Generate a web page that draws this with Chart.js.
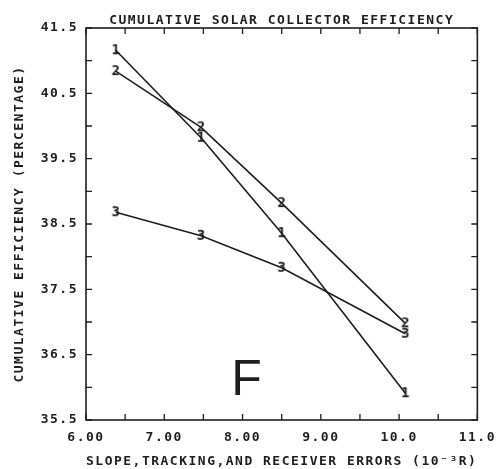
<!DOCTYPE html>
<html>
<head>
<meta charset="utf-8">
<script src="https://cdn.jsdelivr.net/npm/chart.js@4/dist/chart.umd.min.js"></script>
<style>
  html, body { margin: 0; padding: 0; background: #fff; }
  #wrap { width: 503px; height: 469px; }
</style>
</head>
<body>
<div id="wrap"><canvas id="effChart" width="503" height="469"></canvas></div>
<script>
// errors in 10^-3 rad
const errors = [6.38, 7.47, 8.50, 10.08];
const curve1 = [41.16, 39.82, 38.36, 35.91];
const curve2 = [40.84, 39.98, 38.82, 36.98];
const curve3 = [38.68, 38.32, 37.83, 36.82];
const curveNames = ['1', '2', '3'];

const ink = '#1e1e1e';
const mono = "'DejaVu Sans Mono', 'Liberation Mono', monospace";
const axisFont = { family: mono, size: 13, weight: 'bold' };

// digit markers like the plotter output
function digitMarker(d) {
  const c = document.createElement('canvas');
  c.width = 14; c.height = 16;
  const g = c.getContext('2d');
  g.fillStyle = ink;
  g.font = 'bold 14px ' + mono;
  g.textAlign = 'center';
  g.textBaseline = 'middle';
  g.fillText(d, 7, 8.5);
  return c;
}

function series(values, i) {
  return {
    label: curveNames[i],
    data: errors.map((x, k) => ({ x: x, y: values[k] })),
    borderColor: ink,
    borderWidth: 1.6,
    pointStyle: digitMarker(curveNames[i]),
    pointRadius: 7,
    pointHoverRadius: 7,
    tension: 0,
    fill: false
  };
}

const spacing = {
  id: 'spacing',
  beforeDraw(chart) { chart.ctx.letterSpacing = '1.5px'; }
};

const frame = {
  id: 'frame',
  afterDraw(chart) {
    const ctx = chart.ctx;
    const a = chart.chartArea;
    const xs = chart.scales.x, ys = chart.scales.y;
    ctx.save();
    ctx.strokeStyle = ink;
    ctx.lineWidth = 1.6;
    ctx.strokeRect(a.left, a.top, a.right - a.left, a.bottom - a.top);
    ctx.lineWidth = 1.3;
    ctx.beginPath();
    xs.ticks.forEach(t => {
      const px = xs.getPixelForValue(t.value);
      ctx.moveTo(px, a.bottom); ctx.lineTo(px, a.bottom - 6);
      ctx.moveTo(px, a.top); ctx.lineTo(px, a.top + 6);
    });
    ys.ticks.forEach(t => {
      const py = ys.getPixelForValue(t.value);
      ctx.moveTo(a.left, py); ctx.lineTo(a.left + 6, py);
      ctx.moveTo(a.right, py); ctx.lineTo(a.right - 6, py);
    });
    ctx.stroke();

    // title
    ctx.letterSpacing = '1.5px';
    ctx.fillStyle = ink;
    ctx.font = 'bold 13px ' + mono;
    ctx.textAlign = 'center';
    ctx.textBaseline = 'alphabetic';
    ctx.fillText('CUMULATIVE SOLAR COLLECTOR EFFICIENCY', (a.left + a.right) / 2, 24);

    // panel letter
    ctx.letterSpacing = '0px';
    ctx.font = "50px 'Liberation Sans Narrow', 'Liberation Sans', Arial, sans-serif";
    ctx.fillText('F', xs.getPixelForValue(8.05), ys.getPixelForValue(35.88));
    ctx.restore();
  }
};

new Chart(document.getElementById('effChart'), {
  type: 'line',
  data: { datasets: [series(curve1, 0), series(curve2, 1), series(curve3, 2)] },
  options: {
    responsive: false,
    animation: false,
    layout: { padding: { top: 28, right: 25, left: 0, bottom: 0 } },
    plugins: { legend: { display: false }, tooltip: { enabled: false }, title: { display: false } },
    scales: {
      x: {
        type: 'linear',
        min: 6, max: 11,
        grid: { display: false, drawTicks: false },
        border: { display: false },
        ticks: {
          stepSize: 0.5,
          autoSkip: false,
          maxRotation: 0,
          padding: 10,
          color: ink,
          font: axisFont,
          callback: v => Number.isInteger(v) ? (v >= 10 ? v.toFixed(1) : v.toFixed(2)) : ''
        },
        title: {
          display: true,
          text: 'SLOPE,TRACKING,AND RECEIVER ERRORS (10\u207B\u00B3R)',
          color: ink,
          font: axisFont,
          padding: { top: 4, bottom: 0 }
        },
        afterFit(s) { s.height = 49; }
      },
      y: {
        min: 35.5, max: 41.5,
        grid: { display: false, drawTicks: false },
        border: { display: false },
        ticks: {
          stepSize: 0.5,
          autoSkip: false,
          padding: 8,
          color: ink,
          font: axisFont,
          callback: v => Number.isInteger(v - 0.5) ? v.toFixed(1) : ''
        },
        title: {
          display: true,
          text: 'CUMULATIVE EFFICIENCY (PERCENTAGE)',
          color: ink,
          font: axisFont,
          padding: { top: 12, bottom: 4 }
        },
        afterFit(s) { s.width = 86; }
      }
    }
  },
  plugins: [spacing, frame]
});
</script>
</body>
</html>
